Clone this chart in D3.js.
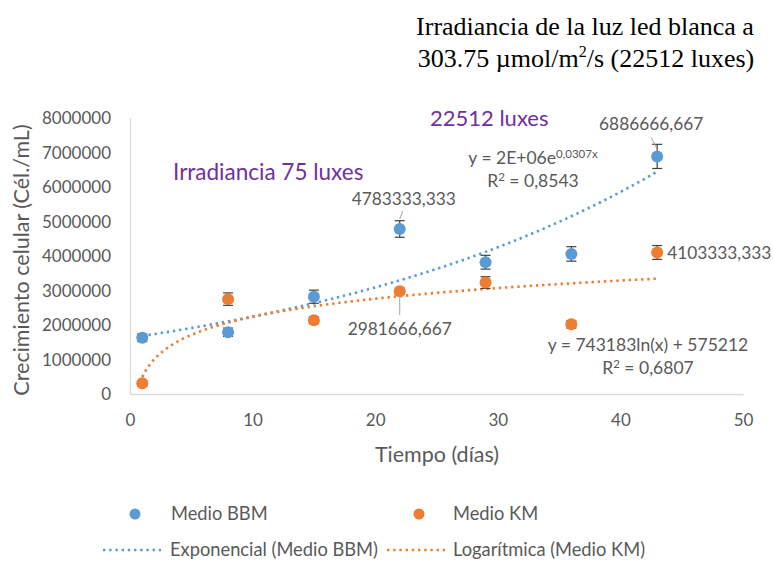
<!DOCTYPE html>
<html lang="es">
<head>
<meta charset="UTF-8">
<title>Crecimiento celular</title>
<script src="https://d3js.org/d3.v7.min.js"></script>
<style>
  body { margin: 0; background: #fff; }
  text { font-family: Lato, "Open Sans", sans-serif; fill: #595959; }
</style>
</head>
<body>
<div id="chart"></div>
<script>
// datos
var dias = [1, 8, 15, 22, 29, 36, 43];
var medioBBM = [1630000, 1790000, 2820000, 4783333.333, 3820000, 4060000, 6886666.667];
var medioKM = [310000, 2750000, 2140000, 2981666.667, 3230000, 2020000, 4103333.333];
var errBBM = [110000, 120000, 190000, 240000, 200000, 210000, 350000];
var errKM = [80000, 180000, 100000, 90000, 170000, 110000, 200000];
var yTicks = [0, 1000000, 2000000, 3000000, 4000000, 5000000, 6000000, 7000000, 8000000];
var xTicks = [0, 10, 20, 30, 40, 50];

var width = 773, height = 563;
var azul = "#5B9BD5", naranja = "#ED7D31", morado = "#7030A0";

var svg = d3.select("#chart").append("svg")
    .attr("width", width)
    .attr("height", height);

svg.append("rect").attr("width", width).attr("height", height).attr("fill", "#fff");

var x = d3.scaleLinear().domain([0, 50]).range([130, 743]);
var y = d3.scaleLinear().domain([0, 8000000]).range([394, 118]);

// titulo
svg.append("text")
   .attr("x", 585).attr("y", 35)
   .attr("text-anchor", "middle")
   .style("font-family", "'Liberation Serif', 'Times New Roman', serif")
   .style("font-size", "26px").style("fill", "#000")
   .text("Irradiancia de la luz led blanca a");
var t2 = svg.append("text")
   .attr("x", 586).attr("y", 67)
   .attr("text-anchor", "middle")
   .style("font-family", "'Liberation Serif', 'Times New Roman', serif")
   .style("font-size", "26px").style("fill", "#000");
t2.append("tspan").text("303.75 µmol/m");
t2.append("tspan").attr("dy", -10).style("font-size", "16px").text("2");
t2.append("tspan").attr("dy", 10).text("/s (22512 luxes)");

// ejes
var yAxis = svg.append("g")
   .attr("transform", "translate(130,0)")
   .call(d3.axisLeft(y).tickValues(yTicks).tickSize(0).tickPadding(19).tickFormat(d3.format("d")));
var xAxis = svg.append("g")
   .attr("transform", "translate(0,394)")
   .call(d3.axisBottom(x).tickValues(xTicks).tickSize(0).tickPadding(20));
[xAxis, yAxis].forEach(function(a) {
    a.select(".domain").attr("stroke", "#D9D9D9").attr("stroke-width", 1.3);
    a.selectAll("text").style("font-size", "17px").style("fill", "#595959")
     .style("font-family", "Lato, 'Open Sans', sans-serif");
});
yAxis.selectAll("text").attr("dy", "0.35em");

svg.append("text")
   .attr("transform", "translate(29,260) rotate(-90)")
   .attr("text-anchor", "middle")
   .style("font-size", "21.5px")
   .text("Crecimiento celular (Cél./mL)");
svg.append("text")
   .attr("x", 437).attr("y", 462)
   .attr("text-anchor", "middle")
   .style("font-size", "21.5px")
   .text("Tiempo (días)");

// lineas de tendencia (minimos cuadrados, como Excel)
var lnY = medioBBM.map(function(v) { return Math.log(v); });
var mx = d3.mean(dias), mly = d3.mean(lnY);
var expB = d3.sum(dias, function(d, i) { return (d - mx) * (lnY[i] - mly); }) /
           d3.sum(dias, function(d) { return (d - mx) * (d - mx); });
var expA = Math.exp(mly - expB * mx);

var lnX = dias.map(function(d) { return Math.log(d); });
var mlx = d3.mean(lnX), mky = d3.mean(medioKM);
var logB = d3.sum(lnX, function(v, i) { return (v - mlx) * (medioKM[i] - mky); }) /
           d3.sum(lnX, function(v) { return (v - mlx) * (v - mlx); });
var logA = mky - logB * mlx;

var xs = d3.range(1, 43.01, 0.25);
var linea = d3.line().x(function(d) { return x(d[0]); }).y(function(d) { return y(d[1]); });

svg.append("path")
   .datum(xs.map(function(t) { return [t, expA * Math.exp(expB * t)]; }))
   .attr("d", linea)
   .attr("fill", "none").attr("stroke", azul).attr("stroke-width", 2.6)
   .attr("stroke-dasharray", "2.4,3.8");
svg.append("path")
   .datum(xs.map(function(t) { return [t, logA + logB * Math.log(t)]; }))
   .attr("d", linea)
   .attr("fill", "none").attr("stroke", naranja).attr("stroke-width", 2.6)
   .attr("stroke-dasharray", "2.4,3.8");

// barras de error y puntos
function serie(vals, errs, color) {
    var g = svg.append("g");
    var e = g.selectAll(".err").data(dias).enter().append("g");
    e.append("line")
     .attr("x1", function(d) { return x(d); }).attr("x2", function(d) { return x(d); })
     .attr("y1", function(d, i) { return y(vals[i] - errs[i]); })
     .attr("y2", function(d, i) { return y(vals[i] + errs[i]); })
     .attr("stroke", "#404040").attr("stroke-width", 1.2);
    [1, -1].forEach(function(s) {
        e.append("line")
         .attr("x1", function(d) { return x(d) - 5; }).attr("x2", function(d) { return x(d) + 5; })
         .attr("y1", function(d, i) { return y(vals[i] + s * errs[i]); })
         .attr("y2", function(d, i) { return y(vals[i] + s * errs[i]); })
         .attr("stroke", "#404040").attr("stroke-width", 1.2);
    });
    g.selectAll("circle").data(dias).enter().append("circle")
     .attr("cx", function(d) { return x(d); })
     .attr("cy", function(d, i) { return y(vals[i]); })
     .attr("r", 6)
     .attr("fill", color);
}
serie(medioBBM, errBBM, azul);
serie(medioKM, errKM, naranja);

// etiquetas de datos
var fmt = function(v) { return v.toFixed(3).replace(".", ","); };
function etiqueta(xv, yv, dx, dy, anchor, lx1, ly1, lx2, ly2) {
    svg.append("text")
       .attr("x", x(xv) + dx).attr("y", y(yv) + dy)
       .attr("text-anchor", anchor).attr("dy", "0.35em")
       .style("font-size", "17.3px")
       .text(fmt(yv));
    if (lx1 !== undefined) {
        svg.append("line")
           .attr("x1", x(xv) + lx1).attr("y1", y(yv) + ly1)
           .attr("x2", x(xv) + lx2).attr("y2", y(yv) + ly2)
           .attr("stroke", "#A6A6A6").attr("stroke-width", 1);
    }
}
etiqueta(dias[3], medioBBM[3], 4, -30, "middle", 3, -18, 0, -10);
etiqueta(dias[6], medioBBM[6], -6, -32, "middle", -6, -19, 0, -7);
etiqueta(dias[3], medioKM[3], 0, 38, "middle", 0, 4, 0, 24);
etiqueta(dias[6], medioKM[6], 10, 1, "start");

// anotaciones
svg.append("text").attr("x", 173).attr("y", 180)
   .style("font-size", "22.5px").style("fill", morado)
   .text("Irradiancia 75 luxes");
svg.append("text").attr("x", 430).attr("y", 126)
   .style("font-size", "22px").style("fill", morado)
   .text("22512 luxes");

var eq1 = svg.append("text").attr("x", 533).attr("y", 164)
   .attr("text-anchor", "middle").style("font-size", "17.5px");
eq1.append("tspan").text("y = 2E+06e");
eq1.append("tspan").attr("dy", -6).style("font-size", "11.5px").text("0,0307x");
var r1 = svg.append("text").attr("x", 533).attr("y", 187)
   .attr("text-anchor", "middle").style("font-size", "17.5px");
r1.append("tspan").text("R");
r1.append("tspan").attr("dy", -6).style("font-size", "11.5px").text("2");
r1.append("tspan").attr("dy", 6).text(" = 0,8543");

svg.append("text").attr("x", 648).attr("y", 351)
   .attr("text-anchor", "middle").style("font-size", "17.5px")
   .text("y = 743183ln(x) + 575212");
var r2 = svg.append("text").attr("x", 648).attr("y", 374)
   .attr("text-anchor", "middle").style("font-size", "17.5px");
r2.append("tspan").text("R");
r2.append("tspan").attr("dy", -6).style("font-size", "11.5px").text("2");
r2.append("tspan").attr("dy", 6).text(" = 0,6807");

// leyenda
var ley = svg.append("g");
ley.append("circle").attr("cx", 135).attr("cy", 514).attr("r", 5.5).attr("fill", azul);
ley.append("text").attr("x", 171).attr("y", 514).attr("dy", "0.35em").style("font-size", "18.3px").text("Medio BBM");
ley.append("circle").attr("cx", 419).attr("cy", 514).attr("r", 5.5).attr("fill", naranja);
ley.append("text").attr("x", 453).attr("y", 514).attr("dy", "0.35em").style("font-size", "18.3px").text("Medio KM");
ley.append("line").attr("x1", 103).attr("x2", 161).attr("y1", 550).attr("y2", 550)
   .attr("stroke", azul).attr("stroke-width", 2.6).attr("stroke-dasharray", "2.4,3.8");
ley.append("text").attr("x", 170).attr("y", 550).attr("dy", "0.35em").style("font-size", "18.3px").text("Exponencial (Medio BBM)");
ley.append("line").attr("x1", 387).attr("x2", 445).attr("y1", 550).attr("y2", 550)
   .attr("stroke", naranja).attr("stroke-width", 2.6).attr("stroke-dasharray", "2.4,3.8");
ley.append("text").attr("x", 453).attr("y", 550).attr("dy", "0.35em").style("font-size", "18.3px").text("Logarítmica (Medio KM)");
</script>
</body>
</html>
